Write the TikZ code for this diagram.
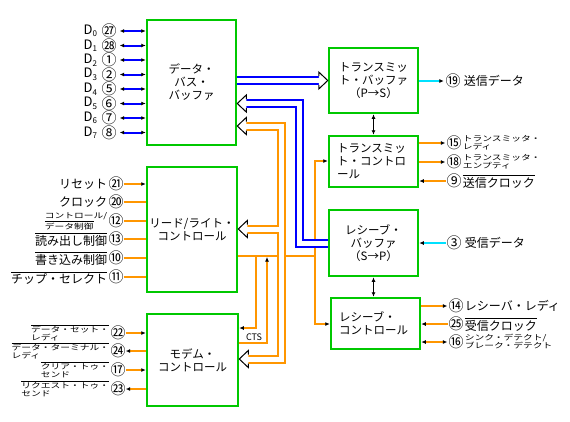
\documentclass[tikz,border=0pt]{standalone}
\usepackage{fontspec}
\setmainfont{Noto Sans CJK JP}
\newfontfamily\jpsmall[FakeStretch=1.3]{Noto Sans CJK JP}
\usetikzlibrary{arrows.meta}
\definecolor{boxgreen}{RGB}{0,200,0}
\definecolor{sigorange}{RGB}{255,150,0}
\definecolor{busblue}{RGB}{0,0,255}
\definecolor{sigcyan}{RGB}{0,225,255}
\newcommand\ovl[1]{\vbox{\hrule height 0.7pt\kern 1.3pt\hbox{#1}}}
\newcommand\fatL[1]{\draw[black,line width=1pt,fill=white] (#1) ++(9,-4.5) -- ++(0,-4) -- (#1) -- ++(9,8.5) -- ++(0,-4);}
\newcommand\fatR[1]{\draw[black,line width=1pt,fill=white] (#1) ++(-9,-4.5) -- ++(0,-4) -- (#1) -- ++(-9,8.5) -- ++(0,-4);}
\begin{document}
\begin{tikzpicture}[x=1pt,y=-1pt,
  >={Latex[length=4.5pt,width=4pt,color=black]},
  box/.style={draw=boxgreen,line width=2.5pt,fill=white,inner sep=0pt,
    font=\fontsize{11.5}{13}\selectfont,align=center},
  num/.style={inner sep=0pt,font=\fontsize{15}{15}\selectfont},
  lab/.style={inner sep=1pt,font=\fontsize{12}{14}\selectfont},
  slab/.style={inner sep=1pt,font=\jpsmall\fontsize{7.5}{8}\selectfont,align=left},
  sig/.style={draw=sigorange,line width=2pt},
  dat/.style={draw=busblue,line width=2pt},
  cyn/.style={draw=sigcyan,line width=2pt},
  lnk/.style={draw=black,line width=1.5pt},
  bluebus/.style={draw=busblue,line width=9pt},
  orabus/.style={draw=sigorange,line width=9pt},
  businner/.style={draw=white,line width=5pt}]
\fill[white] (0,0) rectangle (570,421);
\useasboundingbox (0,0) rectangle (570,421);

% blocks
\node[box,minimum width=89pt,minimum height=125pt] (dbb) at (191.5,82.5) {データ・\\バス・\\バッファ};
\node[box,minimum width=89pt,minimum height=65pt] (tb) at (373.5,80.5) {トランスミッ\\ト・バッファ\\（P→S）};
\node[box,align=left,text width=73pt,inner xsep=8pt,minimum height=51pt] (tc) at (373.5,161.5) {トランスミッ\\ト・コントロ\\ール};
\node[box,minimum width=89pt,minimum height=66pt] (rb) at (373.5,243) {レシーブ・\\バッファ\\（S→P）};
\node[box,align=left,text width=73pt,inner xsep=8pt,minimum height=51pt] (rc) at (375.5,323.5) {レシーブ・\\コントロール};
\node[box,minimum width=90pt,minimum height=125pt] (rwc) at (192,229.5) {リード/ライト・\\コントロール};
\node[box,minimum width=91pt,minimum height=92pt] (mc) at (192.5,360) {モデム・\\コントロール};

% data lines
\foreach \i/\y/\c in {0/31/㉗,1/45.5/㉘,2/60/①,3/74.5/②,4/89/⑤,5/103.5/⑥,6/118/⑦,7/132.5/⑧}{
  \node[num] (d\i) at (109,\y) {\c};
  \node[inner sep=0pt,anchor=east,font=\fontsize{13}{13}\selectfont] (dl\i) at ([xshift=-4pt]d\i.west) {D\raisebox{-2.5pt}{\fontsize{8}{8}\selectfont\i}};
  \draw[dat,<->,shorten <=3pt] (d\i.east) -- (dbb.west |- d\i);
}

% read/write control inputs
\foreach \n/\y/\c in {21/184/㉑,20/202/⑳,12/221/⑫,13/239/⑬,10/258/⑩,11/277/⑪}{
  \node[num] (p\n) at (116,\y) {\c};
}
\draw[sig,->] (p21.east) -- (rwc.west |- p21);
\foreach \n in {20,12,13,10,11}{\draw[sig] (p\n.east) -- (rwc.west |- p\n);}
\node[lab,anchor=east] (t21) at (p21.west) {リセット};
\node[lab,anchor=east] (t20) at (p20.west) {クロック};
\node[slab,anchor=east] (t12) at (p12.west) {コントロール/\\\ovl{データ制御}};
\node[lab,anchor=east] (t13) at ([yshift=-1pt]p13.west) {\ovl{読み出し制御}};
\node[lab,anchor=east] (t10) at ([yshift=-1pt]p10.west) {\ovl{書き込み制御}};
\node[lab,anchor=east] (t11) at ([yshift=-1pt]p11.west) {\ovl{チップ・セレクト}};

% modem control signals
\foreach \n/\y/\c in {22/333/㉒,24/351/㉔,17/370/⑰,23/389/㉓}{
  \node[num] (p\n) at (118,\y) {\c};
}
\draw[sig,->] (p22.east) -- (mc.west |- p22);
\draw[sig,<-] (p24.east) -- (mc.west |- p24);
\draw[sig,->] (p17.east) -- (mc.west |- p17);
\draw[sig,<-] (p23.east) -- (mc.west |- p23);
\node[slab,anchor=east] (t22) at (p22.west) {\ovl{データ・セット・}\\レディ};
\node[slab,anchor=east] (t24) at (p24.west) {\ovl{データ・ターミナル・}\\レディ};
\node[slab,anchor=east] (t17) at (p17.west) {\ovl{クリア・トゥ・}\\センド};
\node[slab,anchor=east] (t23) at (p23.west) {\ovl{リクエスト・トゥ・}\\センド};

% right side signals
\node[num] (p19) at (453,81) {⑲};
\node[num] (p15) at (454,143) {⑮};
\node[num] (p18) at (454,162) {⑱};
\node[num] (p9) at (454,181) {⑨};
\node[num] (p3) at (454,243) {③};
\node[num] (p14) at (456,306) {⑭};
\node[num] (p25) at (456,324) {㉕};
\node[num] (p16) at (456,342) {⑯};
\draw[cyn,->,shorten >=1.5pt] (tb.east |- p19) -- (p19.west);
\draw[sig,->,shorten >=1pt] (tc.east |- p15) -- (p15.west);
\draw[sig,->,shorten >=1pt] (tc.east |- p18) -- (p18.west);
\draw[sig,<-] (tc.east |- p9) -- (p9.west);
\draw[cyn,<-] (rb.east |- p3) -- (p3.west);
\draw[sig,->,shorten >=1pt] (rc.east |- p14) -- (p14.west);
\draw[sig,<-] (rc.east |- p25) -- (p25.west);
\draw[sig,<->,shorten >=1pt] (rc.east |- p16) -- (p16.west);
\node[lab,anchor=west] (t19) at ([xshift=2pt]p19.east) {送信データ};
\node[slab,anchor=west] (t15) at (p15.east) {トランスミッタ・\\レディ};
\node[slab,anchor=west] (t18) at (p18.east) {トランスミッタ・\\エンプティ};
\node[lab,anchor=west] (t9) at ([yshift=-1pt]p9.east) {\ovl{送信クロック}};
\node[lab,anchor=west] (t3) at ([xshift=2pt]p3.east) {受信データ};
\node[lab,anchor=west] (t14) at (p14.east) {レシーバ・レディ};
\node[lab,anchor=west] (t25) at ([yshift=-1pt]p25.east) {\ovl{受信クロック}};
\node[slab,anchor=west] (t16) at (p16.east) {シンク・デテクト/\\ブレーク・デテクト};

% buffer <-> control links
\draw[lnk,<->] (tb.south) -- (tc.north);
\draw[lnk,<->] (rb.south) -- (rb.south |- rc.north);

% internal single orange lines
\coordinate (jt) at (315,161);
\coordinate (jr) at (315,324);
\draw[sig] (rwc.east |- 0,256) -- (jt |- 0,256);
\draw[sig,<->] (tc.west |- jt) -- (jt) -- (jr) -- (rc.west |- jr);
\draw[sig,->] (256,256) -- (256,328) -- (mc.east |- 0,328);
\draw[sig,->] (mc.east |- 0,343) -- (267,343) -- (267,257);
\node[inner sep=0pt,font=\fontsize{9}{9}\selectfont] (cts) at (254,337) {CTS};

% buses: outer pass
\draw[bluebus,shorten >=9pt] (dbb.east |- 0,80.5) -- (tb.west |- 0,80.5);
\draw[bluebus,shorten >=9pt] (rb.west |- 0,243.5) -- (299.5,243.5) -- (299.5,103.5) -- (dbb.east |- 0,103.5);
\draw[orabus,shorten <=9pt,shorten >=9pt] (dbb.east |- 0,126) -- (281.5,126) -- (281.5,359) -- (mc.east |- 0,359);
\draw[orabus,shorten >=9pt] (281.5,229) -- (rwc.east |- 0,229);
% buses: inner pass
\draw[businner,shorten >=9pt] (dbb.east |- 0,80.5) -- (tb.west |- 0,80.5);
\draw[businner,shorten >=9pt] (rb.west |- 0,243.5) -- (299.5,243.5) -- (299.5,103.5) -- (dbb.east |- 0,103.5);
\draw[businner,shorten <=9pt,shorten >=9pt] (dbb.east |- 0,126) -- (281.5,126) -- (281.5,359) -- (mc.east |- 0,359);
\draw[businner,shorten >=9pt] (281.5,229) -- (rwc.east |- 0,229);
% bus heads
\fatR{tb.west |- 0,80.5}
\fatL{dbb.east |- 0,103.5}
\fatL{dbb.east |- 0,126}
\fatL{rwc.east |- 0,229}
\fatL{mc.east |- 0,359}
\end{tikzpicture}
\end{document}
